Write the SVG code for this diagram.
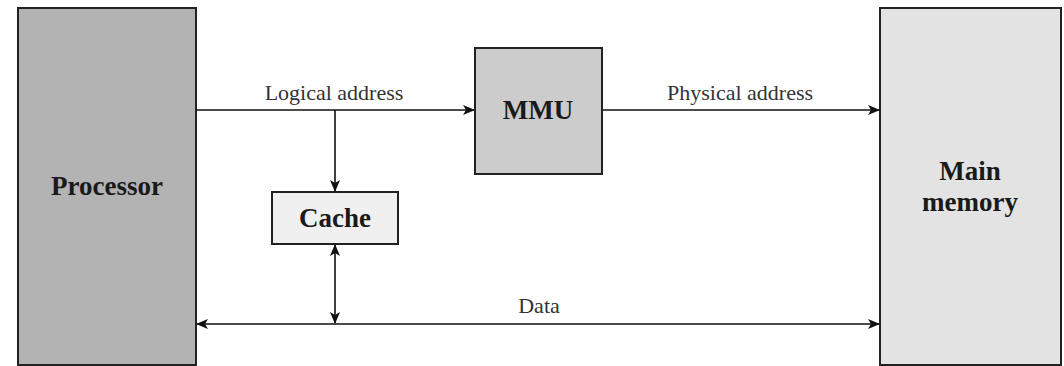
<svg xmlns="http://www.w3.org/2000/svg" width="1064" height="366" viewBox="0 0 1064 366">
<style>
.box{stroke:#222;stroke-width:2}
.lbl{font-family:"Liberation Serif",serif;font-weight:bold;font-size:27px;fill:#1a1a1a;text-anchor:middle}
.edge{font-family:"Liberation Serif",serif;font-size:22px;fill:#333;text-anchor:middle}
.ln{stroke:#111;stroke-width:1.6;fill:none}
</style>
<defs>
<marker id="ah" viewBox="0 0 12 10" refX="11" refY="5" markerWidth="12" markerHeight="10" markerUnits="userSpaceOnUse" orient="auto-start-reverse">
<path d="M0,0 L12,5 L0,10 L3,5 Z" fill="#111"/>
</marker>
</defs>
<rect width="1064" height="366" fill="#fff"/>
<g id="processor">
<rect class="box" x="18" y="8" width="178" height="357" fill="#b3b3b3"/>
<text class="lbl" x="107" y="195">Processor</text>
</g>
<g id="mmu">
<rect class="box" x="475" y="48" width="127" height="126" fill="#cccccc"/>
<text class="lbl" x="538" y="119">MMU</text>
</g>
<g id="cache">
<rect class="box" x="272" y="192" width="126" height="52" fill="#f0f0f0"/>
<text class="lbl" x="335" y="227">Cache</text>
</g>
<g id="main-memory">
<rect class="box" x="880" y="8" width="181" height="357" fill="#e3e3e3"/>
<text class="lbl" x="970" y="180">Main</text>
<text class="lbl" x="970" y="211">memory</text>
</g>
<g id="connectors">
<path class="ln" d="M196,110 H474" marker-end="url(#ah)"/>
<text class="edge" x="334" y="100">Logical address</text>
<path class="ln" d="M335,110 V191" marker-end="url(#ah)"/>
<path class="ln" d="M602,110 H879" marker-end="url(#ah)"/>
<text class="edge" x="740" y="100">Physical address</text>
<path class="ln" d="M335,245 V323" marker-start="url(#ah)" marker-end="url(#ah)"/>
<path class="ln" d="M197,324 H879" marker-start="url(#ah)" marker-end="url(#ah)"/>
<text class="edge" x="539" y="313">Data</text>
</g>
</svg>
